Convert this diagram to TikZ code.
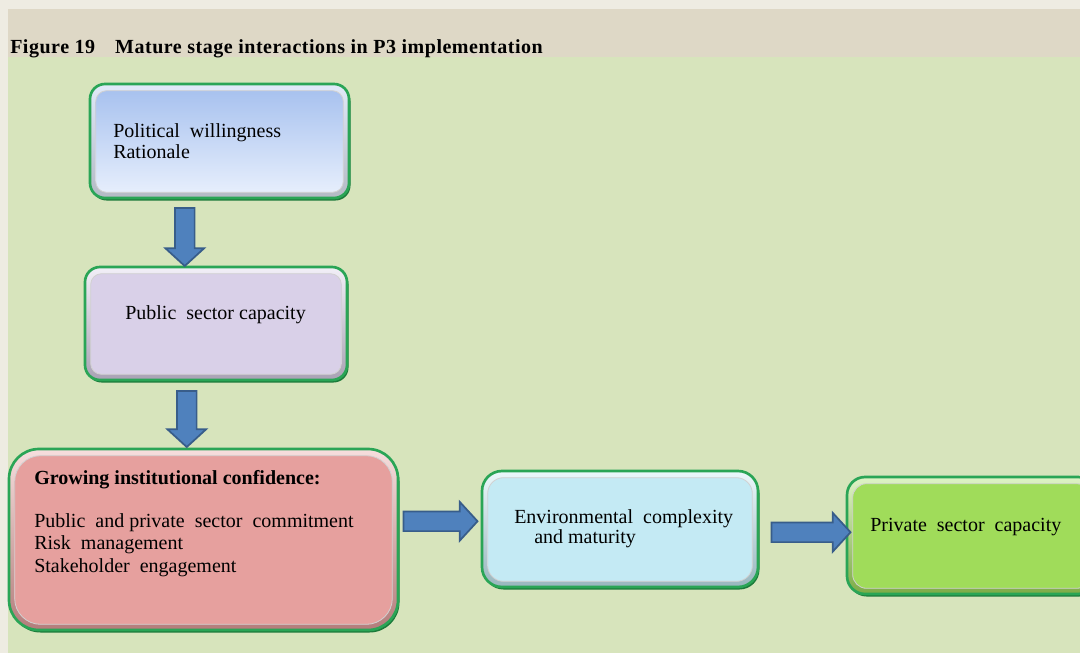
\documentclass[tikz,border=0pt]{standalone}
\usepackage{fontspec}
\setmainfont{Liberation Serif}
\usetikzlibrary{shapes.arrows,calc}

\definecolor{pagebg}{HTML}{EEECE2}
\definecolor{headbg}{HTML}{DED8C6}
\definecolor{areabg}{HTML}{D7E4BC}
\definecolor{rim}{HTML}{2AA556}
\definecolor{rimdark}{HTML}{1C7A3A}
\definecolor{arrowfill}{HTML}{4F81BD}
\definecolor{arrowline}{HTML}{385D8A}
\definecolor{blueA}{HTML}{A8C2EF}
\definecolor{blueB}{HTML}{E6EEFC}
\definecolor{lilac}{HTML}{D9D0E8}
\definecolor{rose}{HTML}{E6A09E}
\definecolor{aqua}{HTML}{C4EAF4}
\definecolor{lime}{HTML}{A0DC5A}

\tikzset{
  txt/.style={anchor=base west, inner sep=0pt, font=\fontsize{15}{18}\selectfont},
  boldtxt/.style={txt, font=\bfseries\fontsize{15}{18}\selectfont},
  blockarrow/.style={single arrow, draw=arrowline, fill=arrowfill, line width=1.3pt,
    inner xsep=0pt, inner ysep=6.75pt, single arrow head extend=7.1pt,
    single arrow head indent=0pt, single arrow tip angle=95},
}

% bevelled rounded box: name, x1, y1, x2, y2, corner radius, face top colour, face bottom colour
\newcommand\bevelbox[8]{%
  \fill[rimdark, rounded corners={#6*0.75pt}] ({#2+1.5},{#3+2}) rectangle ({#4+1.5},{#5+2.5});
  \node[draw=rim, line width=2pt, rounded corners={#6*0.75pt},
        minimum width={(#4-#2)*0.75pt}, minimum height={(#5-#3)*0.75pt}, inner sep=0pt,
        top color=#7!35!white, bottom color=#8!78!black]
        (#1) at ({(#2+#4)/2},{(#3+#5)/2}) {};
  \draw[black!18, line width=0.6pt, rounded corners={(#6-4)*0.75pt}, top color=#7, bottom color=#8]
        ([shift={(7,8)}]#1.north west) rectangle ([shift={(-7,-7)}]#1.south east);
}

\begin{document}
\begin{tikzpicture}[x=0.75pt, y=-0.75pt]
  \useasboundingbox (0,0) rectangle (1080,653);
  \clip (0,0) rectangle (1080,653);

  % page, heading band and figure area
  \fill[pagebg] (0,0) rectangle (1080,653);
  \fill[headbg] (8,9) rectangle (1080,57);
  \fill[areabg] (8,57) rectangle (1080,653);

  \node[anchor=base west, inner sep=0pt,
        font=\bfseries\fontsize{15}{18}\selectfont\addfontfeature{LetterSpace=2.6}]
    (title) at (10,53) {Figure 19\quad Mature stage interactions in P3 implementation};

  % boxes
  \bevelbox{pw}{90}{84}{349}{198}{15}{blueA}{blueB}
  \bevelbox{psc}{85}{267}{347}{380}{15}{lilac}{lilac}
  \bevelbox{gic}{9}{449}{398}{630}{30}{rose}{rose}
  \bevelbox{ecm}{482}{471}{758}{587}{20}{aqua}{aqua}
  \bevelbox{prc}{847}{477}{1096}{594}{18}{lime}{lime}

  % box texts
  \node[txt] (pw1) at (113,137) {Political\ \ willingness};
  \node[txt] (pw2) at (113,158) {Rationale};
  \node[txt] (psc1) at (125,319) {Public\ \ sector capacity};
  \node[boldtxt] (gic0) at (34,484) {Growing institutional confidence:};
  \node[txt] (gic1) at (34,527) {Public\ \ and private\ \ sector\ \ commitment};
  \node[txt] (gic2) at (34,549) {Risk\ \ management};
  \node[txt] (gic3) at (34,572) {Stakeholder\ \ engagement};
  \node[txt] (ecm1) at (514,523) {Environmental\ \ complexity};
  \node[txt] (ecm2) at (534,543) {and maturity};
  \node[txt] (prc1) at (870,531) {Private\ \ sector\ \ capacity};

  % block arrows between the boxes
  \node[blockarrow, rotate=-90, minimum height=58*0.75pt] (a1)
    at ($(pw.south)!0.5!(psc.north) + (-33,0)$) {};
  \node[blockarrow, rotate=-90, minimum height=56*0.75pt] (a2)
    at ($(psc.south)!0.5!(gic.north) + (-23,0)$) {};
  \node[blockarrow, minimum height=74*0.75pt] (a3)
    at ($(gic.east)!0.5!(ecm.west) + (-4,-13)$) {};
  \node[blockarrow, minimum height=79*0.75pt] (a4)
    at ($(ecm.east)!0.5!(prc.west) + (4,0)$) {};
\end{tikzpicture}
\end{document}
